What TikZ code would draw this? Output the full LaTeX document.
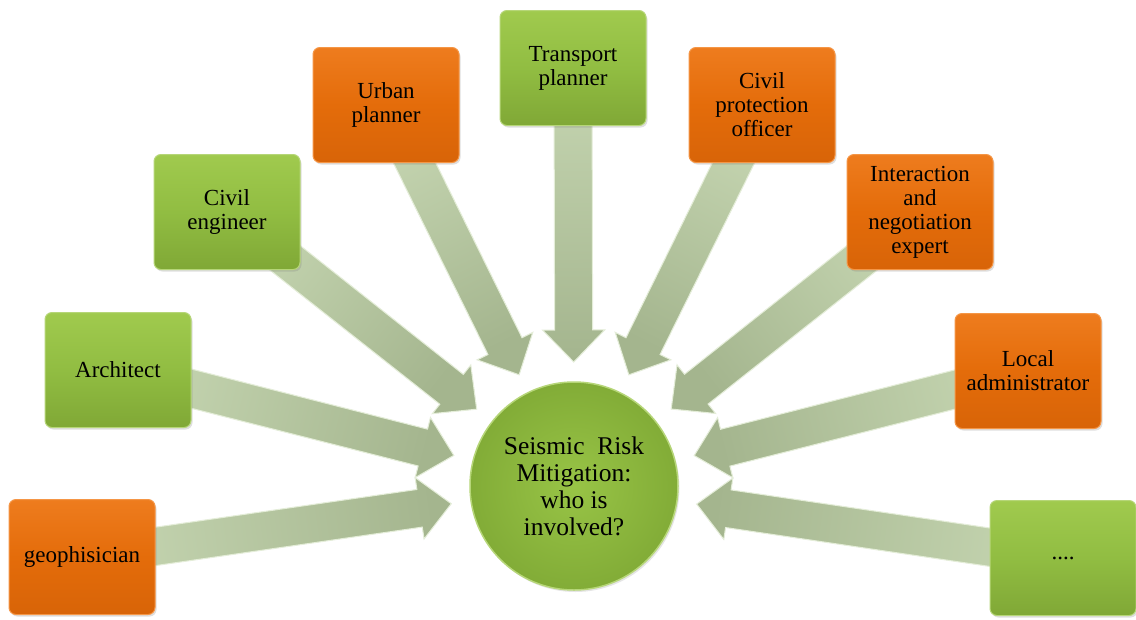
\documentclass[tikz,border=0pt]{standalone}
\usepackage{fontspec}
\setmainfont{Liberation Serif}
\usetikzlibrary{calc,shadows}
\pgfdeclarelayer{bg}
\pgfsetlayers{bg,main}
\definecolor{orTop}{RGB}{238,124,30}
\definecolor{orMid}{RGB}{228,108,10}
\definecolor{orBot}{RGB}{216,100,8}
\definecolor{orEdge}{RGB}{245,150,70}
\definecolor{grTop}{RGB}{160,202,78}
\definecolor{grMid}{RGB}{145,189,66}
\definecolor{grBot}{RGB}{128,168,54}
\definecolor{grEdge}{RGB}{182,214,120}
\definecolor{ciIn}{RGB}{152,196,70}
\definecolor{ciOut}{RGB}{130,172,55}
\definecolor{arLight}{RGB}{198,214,178}
\definecolor{arDark}{RGB}{164,181,142}
\definecolor{arEdge}{RGB}{228,237,216}
\tikzset{
  boxsty/.style={rounded corners=7pt, minimum width=146pt, minimum height=115pt,
    align=center, text=black, line width=1pt,
    font=\fontsize{23}{24}\selectfont,
    drop shadow={opacity=0.25, shadow xshift=1.5pt, shadow yshift=-2pt}},
  orbox/.style={boxsty, top color=orTop, bottom color=orBot, middle color=orMid, draw=orEdge},
  grbox/.style={boxsty, top color=grTop, bottom color=grBot, middle color=grMid, draw=grEdge},
  hubsty/.style={circle, minimum size=208pt, inner sep=0pt, align=center, text=black,
    inner color=ciIn, outer color=ciOut, draw=grEdge, line width=1.5pt,
    font=\fontsize{25.5}{27}\selectfont,
    drop shadow={opacity=0.2, shadow xshift=1.5pt, shadow yshift=-2pt}},
  arrowsty/.style={top color=arDark, bottom color=arLight, draw=arEdge, line width=1pt, line join=miter}
}
\newcommand\blockarr[2]{%
  \coordinate (#2b) at ($(#2)!32pt!(#1.center)$);
  \pgfmathanglebetweenpoints{\pgfpointanchor{#1}{center}}{\pgfpointanchor{#2}{center}}%
  \pgfmathsetmacro\myang{\pgfmathresult-90}%
  \begin{pgfonlayer}{bg}
  \path[arrowsty, shading angle=\myang]
    ($(#1.center)!19pt!90:(#2)$) -- ($(#2b)!19pt!90:(#2)$) -- ($(#2b)!31pt!90:(#2)$)
    -- (#2) -- ($(#2b)!31pt!-90:(#2)$) -- ($(#2b)!19pt!-90:(#2)$)
    -- ($(#1.center)!19pt!-90:(#2)$) -- cycle;
  \end{pgfonlayer}}
\begin{document}
\begin{tikzpicture}[x=1pt, y=-1pt]
\begin{pgfonlayer}{bg}
\fill[white] (0,0) rectangle (1136,619);
\end{pgfonlayer}
\useasboundingbox (0,0) rectangle (1136,619);
\node[hubsty] (hub) at (574,486) {Seismic\ \ Risk\\Mitigation:\\who is\\involved?};
\node[orbox] (geo) at (82,557) {geophisician};
\node[grbox] (arch) at (118,370) {Architect};
\node[grbox] (civeng) at (227,212) {Civil\\engineer};
\node[orbox] (urban) at (386,105) {Urban\\planner};
\node[grbox] (trans) at (573,68) {Transport\\planner};
\node[orbox] (civprot) at (762,105) {Civil\\protection\\officer};
\node[orbox] (inter) at (920,212) {Interaction\\and\\negotiation\\expert};
\node[orbox] (local) at (1028,371) {Local\\administrator};
\node[grbox] (more) at (1063,558) {....};
\foreach \n in {geo,arch,civeng,urban,trans,civprot,inter,local,more}{
  \coordinate (\n-tip) at ($(hub.center)!124pt!(\n.center)$);
}
\blockarr{geo}{geo-tip}
\blockarr{arch}{arch-tip}
\blockarr{civeng}{civeng-tip}
\blockarr{urban}{urban-tip}
\blockarr{trans}{trans-tip}
\blockarr{civprot}{civprot-tip}
\blockarr{inter}{inter-tip}
\blockarr{local}{local-tip}
\blockarr{more}{more-tip}
\end{tikzpicture}
\end{document}
